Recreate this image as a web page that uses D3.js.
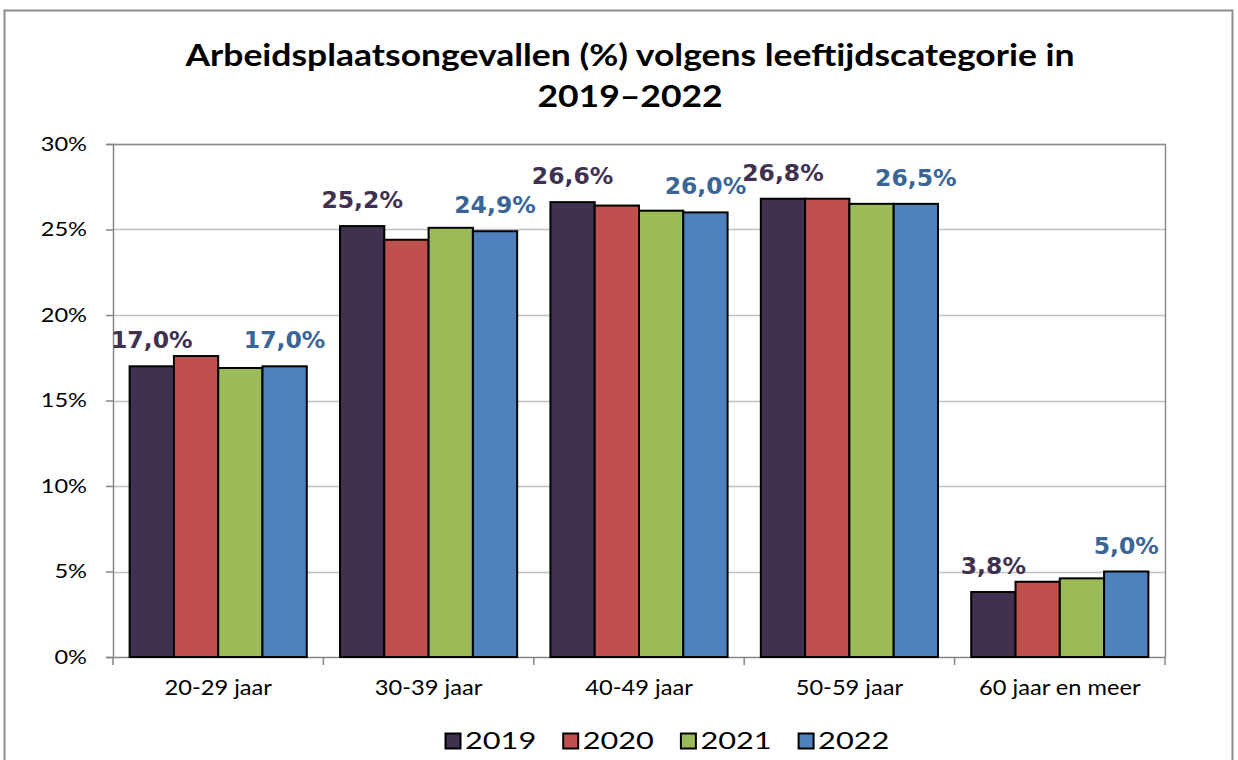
<!DOCTYPE html>
<html>
<head>
<meta charset="utf-8">
<script src="https://cdn.jsdelivr.net/npm/d3@7"></script>
<style>
  body { margin: 0; background: #fff; }
  svg { display: block; }
</style>
</head>
<body>
<div id="chart"></div>
<script>
var categories = ["20-29 jaar", "30-39 jaar", "40-49 jaar", "50-59 jaar", "60 jaar en meer"];
var years = ["2019", "2020", "2021", "2022"];
var values2019 = [17.0, 25.2, 26.6, 26.8, 3.8];
var values2020 = [17.6, 24.4, 26.4, 26.8, 4.4];
var values2021 = [16.9, 25.1, 26.1, 26.5, 4.6];
var values2022 = [17.0, 24.9, 26.0, 26.5, 5.0];
var yTicks = [0, 5, 10, 15, 20, 25, 30];
var labelledYears = ["2019", "2022"];
var titleLines = ["Arbeidsplaatsongevallen (%) volgens leeftijdscategorie in", "2019\u20132022"];

var seriesValues = {"2019": values2019, "2020": values2020, "2021": values2021, "2022": values2022};
var colors = {"2019": "#403151", "2020": "#C0504D", "2021": "#9BBB59", "2022": "#4F81BD"};
var labelColors = {"2019": "#403151", "2022": "#3A6597"};

var width = 1238, height = 760;
var plot = {left: 113, top: 144, right: 1165, bottom: 657};
var sans = "Lato, 'Open Sans', sans-serif";

var svg = d3.select("#chart").append("svg")
   .attr("width", width)
   .attr("height", height);

// the reference text is a bit wider than the fonts we have, so stretch it sideways
function place(sel, fx, fy, sx) {
   sel.attr("transform", function(d, i) {
      return "translate(" + fx(d, i) + "," + fy(d, i) + ") scale(" + sx + ",1)";
   });
}

// outer chart frame
svg.append("rect")
   .attr("x", 4.5).attr("y", 10.5)
   .attr("width", 1228).attr("height", 780)
   .attr("fill", "#fff")
   .attr("stroke", "#8c8c8c")
   .attr("stroke-width", 2);

// title
svg.append("g").selectAll("text")
   .data(titleLines)
   .enter().append("text")
   .attr("text-anchor", "middle")
   .attr("font-family", sans)
   .attr("font-weight", "bold")
   .attr("font-size", 31)
   .attr("fill", "#000")
   .text(function(d) {return d})
   .call(place, function() {return 630}, function(d, i) {return 66 + i * 41}, 1.145);

var x0 = d3.scaleBand()
   .domain(categories)
   .range([plot.left, plot.right]);

var bw = x0.bandwidth();
var groupW = bw * 0.842;
var x1 = d3.scaleBand()
   .domain(years)
   .range([(bw - groupW) / 2, (bw + groupW) / 2]);

var y = d3.scaleLinear()
   .domain([0, 30])
   .range([plot.bottom, plot.top]);

// gridlines
svg.append("g")
   .selectAll("line")
   .data(yTicks.slice(1))
   .enter().append("line")
   .attr("x1", plot.left).attr("x2", plot.right)
   .attr("y1", function(d) {return Math.round(y(d)) + 0.5})
   .attr("y2", function(d) {return Math.round(y(d)) + 0.5})
   .attr("stroke", "#c0c0c0")
   .attr("stroke-width", 1.5);

// plot area border (right + top)
svg.append("path")
   .attr("d", "M" + plot.left + "," + (plot.top + 0.5) + "H" + (plot.right + 0.5) + "V" + plot.bottom)
   .attr("fill", "none")
   .attr("stroke", "#8c8c8c")
   .attr("stroke-width", 1.5);

// y axis
var ySx = 1.18;
var yAxis = svg.append("g")
   .attr("transform", "translate(" + plot.left + ",0)")
   .call(d3.axisLeft(y)
      .tickValues(yTicks)
      .tickSize(7)
      .tickFormat(function(d) {return d + "%"}));
yAxis.select(".domain").attr("stroke", "#868686").attr("stroke-width", 1.5);
yAxis.selectAll(".tick line").attr("stroke", "#868686").attr("stroke-width", 1.5);
yAxis.selectAll("text")
   .attr("x", -26 / ySx)
   .attr("transform", "scale(" + ySx + ",1)")
   .attr("font-family", sans)
   .attr("font-size", 20)
   .attr("fill", "#000");

// x axis
var xAxis = svg.append("g")
   .attr("transform", "translate(0," + plot.bottom + ")");
xAxis.append("line")
   .attr("x1", plot.left).attr("x2", plot.right + 0.5)
   .attr("y1", 0.5).attr("y2", 0.5)
   .attr("stroke", "#868686")
   .attr("stroke-width", 1.5);
xAxis.selectAll(".xtick")
   .data(categories.concat([null]))
   .enter().append("line")
   .attr("class", "xtick")
   .attr("x1", function(d, i) {return i < categories.length ? x0(d) : plot.right})
   .attr("x2", function(d, i) {return i < categories.length ? x0(d) : plot.right})
   .attr("y1", 0).attr("y2", 8)
   .attr("stroke", "#868686")
   .attr("stroke-width", 1.5);
xAxis.selectAll(".xlabel")
   .data(categories)
   .enter().append("text")
   .attr("class", "xlabel")
   .attr("text-anchor", "middle")
   .attr("font-family", sans)
   .attr("font-size", 21.5)
   .attr("fill", "#000")
   .text(function(d) {return d})
   .call(place, function(d) {return x0(d) + bw / 2}, function() {return 38}, 1.1);

// bars
var groups = svg.append("g")
   .selectAll("g")
   .data(categories)
   .enter().append("g")
   .attr("transform", function(d) {return "translate(" + x0(d) + ",0)"});

groups.selectAll("rect")
   .data(function(d, i) {
      return years.map(function(yr) {return {year: yr, value: seriesValues[yr][i]}});
   })
   .enter().append("rect")
   .attr("x", function(d) {return x1(d.year)})
   .attr("y", function(d) {return y(d.value)})
   .attr("width", x1.bandwidth())
   .attr("height", function(d) {return plot.bottom - y(d.value)})
   .attr("fill", function(d) {return colors[d.year]})
   .attr("stroke", "#000")
   .attr("stroke-width", 2);

// data labels for 2019 and 2022
groups.selectAll(".lbl")
   .data(function(d, i) {
      return labelledYears.map(function(yr) {return {year: yr, value: seriesValues[yr][i]}});
   })
   .enter().append("text")
   .attr("class", "lbl")
   .attr("x", function(d) {return x1(d.year) + x1.bandwidth() / 2})
   .attr("y", function(d) {return y(d.value) - 18})
   .attr("text-anchor", "middle")
   .attr("font-family", "'DejaVu Sans', Verdana, sans-serif")
   .attr("font-weight", "bold")
   .attr("font-size", 23.5)
   .attr("fill", function(d) {return labelColors[d.year]})
   .text(function(d) {return d.value.toFixed(1).replace(".", ",") + "%"});

// legend
var legend = svg.append("g")
   .selectAll("g")
   .data(years)
   .enter().append("g")
   .attr("transform", function(d, i) {return "translate(" + (445 + i * 117.7) + ",733)"});
legend.append("rect")
   .attr("x", 0.5).attr("y", 0.5)
   .attr("width", 15).attr("height", 15)
   .attr("fill", function(d) {return colors[d]})
   .attr("stroke", "#000")
   .attr("stroke-width", 2);
legend.append("text")
   .attr("font-family", sans)
   .attr("font-size", 24)
   .attr("fill", "#000")
   .text(function(d) {return d})
   .call(place, function() {return 20}, function() {return 16}, 1.28);
</script>
</body>
</html>
